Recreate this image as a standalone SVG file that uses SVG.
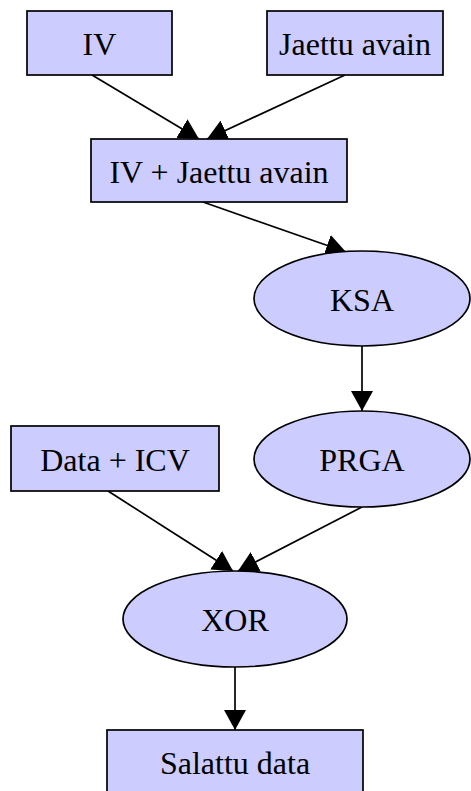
<svg xmlns="http://www.w3.org/2000/svg" width="471" height="791" viewBox="0 0 471 791">
  <style>
    .node { fill: #ccccff; stroke: #000; stroke-width: 1.7; }
    .label { font-family: "Liberation Serif", "Times New Roman", serif; font-size: 32px; fill: #000; text-anchor: middle; }
    .edge { stroke: #000; stroke-width: 1.7; fill: none; marker-end: url(#arrow); }
  </style>
  <defs>
    <marker id="arrow" markerUnits="userSpaceOnUse" markerWidth="20" markerHeight="22" refX="20" refY="11" orient="auto">
      <path d="M0,0 L20,11 L0,22 z" fill="#000"/>
    </marker>
  </defs>
  <rect width="471" height="791" fill="#fff"/>

  <g id="edges">
    <line class="edge" x1="92" y1="75" x2="199" y2="139"/>
    <line class="edge" x1="345" y1="75" x2="207" y2="139"/>
    <line class="edge" x1="203" y1="202" x2="346" y2="252"/>
    <line class="edge" x1="362" y1="346" x2="362" y2="411"/>
    <line class="edge" x1="108" y1="491" x2="233" y2="571"/>
    <line class="edge" x1="362" y1="507" x2="238" y2="571"/>
    <line class="edge" x1="235" y1="667" x2="235" y2="730"/>
  </g>

  <g id="iv">
    <rect class="node" x="27" y="11" width="145" height="64"/>
    <text class="label" x="99.5" y="55">IV</text>
  </g>
  <g id="jaettu-avain">
    <rect class="node" x="267" y="11" width="176" height="64"/>
    <text class="label" x="355" y="55">Jaettu avain</text>
  </g>
  <g id="iv-jaettu-avain">
    <rect class="node" x="91" y="139" width="256" height="63"/>
    <text class="label" x="219" y="183">IV + Jaettu avain</text>
  </g>
  <g id="ksa">
    <ellipse class="node" cx="362" cy="298.5" rx="108" ry="47.5"/>
    <text class="label" x="362" y="311">KSA</text>
  </g>
  <g id="prga">
    <ellipse class="node" cx="362" cy="459" rx="108" ry="48"/>
    <text class="label" x="362" y="471">PRGA</text>
  </g>
  <g id="data-icv">
    <rect class="node" x="11" y="426" width="208" height="65"/>
    <text class="label" x="115" y="471">Data + ICV</text>
  </g>
  <g id="xor">
    <ellipse class="node" cx="235" cy="619" rx="112" ry="48"/>
    <text class="label" x="235" y="631">XOR</text>
  </g>
  <g id="salattu-data">
    <rect class="node" x="107" y="730" width="256" height="66"/>
    <text class="label" x="235" y="774">Salattu data</text>
  </g>
</svg>
